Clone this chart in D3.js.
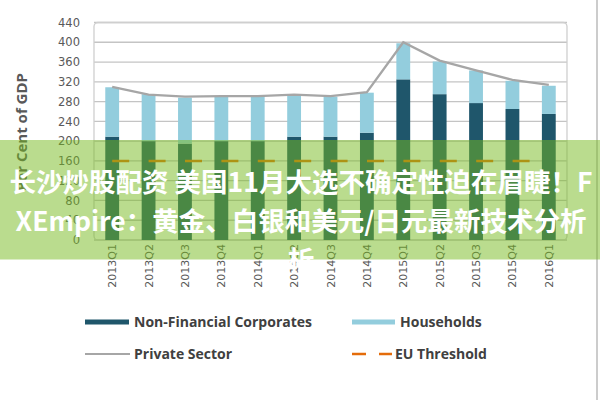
<!DOCTYPE html>
<html><head><meta charset="utf-8">
<script src="https://cdn.jsdelivr.net/npm/d3@7"></script>
<style>
html,body{margin:0;padding:0;background:#fff;}
svg{display:block;}
</style></head>
<body>
<svg id="c" width="600" height="400"></svg>
<script>
const categories = ["2013Q1","2013Q2","2013Q3","2013Q4","2014Q1","2014Q2","2014Q3","2014Q4","2015Q1","2015Q2","2015Q3","2015Q4","2016Q1"];
const nonFinancial = [209, 200, 195, 200, 200, 209, 209, 217, 325, 295, 277, 265, 255];
const households   = [100,  95,  93,  90,  90,  83,  81,  81,  73,  66,  66,  57,  57];
const privateSector= [310, 294, 290, 291, 291, 294, 291, 299, 400, 363, 343, 324, 314];
const euThreshold  = [160, 160, 160, 160, 160, 160, 160, 160, 160, 160, 160, 160, 160];
const yTicks = [0, 40, 80, 120, 160, 200, 240, 280, 320, 360, 400, 440];
const legendLabels = ["Non-Financial Corporates", "Households", "Private Sector", "EU Threshold"];
const yTitle = "Per Cent of GDP";
const bannerLines = ["长沙炒股配资 美国11月大选不确定性迫在眉睫！F", "XEmpire：黄金、白银和美元/日元最新技术分析", "析"];

const C = {dark:"#1f566b", light:"#93cddd", line:"#a6a6a6", orange:"#e46c0a", grid:"#c4c4c4", text:"#595959"};
const svg = d3.select("#c");
const L = 94, R = 567, T = 22.5, B = 240;

const x = d3.scaleBand().domain(categories).range([L, R]).paddingInner(0.62).paddingOuter(0.31);
const y = d3.scaleLinear().domain([0, 440]).range([B, T]);

// gridlines
svg.append("g").selectAll("line").data(yTicks).join("line")
  .attr("x1", L).attr("x2", R).attr("y1", d => y(d)).attr("y2", d => y(d))
  .attr("stroke", C.grid).attr("stroke-width", 1.3);

// frame
svg.append("rect").attr("x", L).attr("y", T).attr("width", R - L).attr("height", B - T)
  .attr("rx", 4).attr("fill", "none").attr("stroke", "#cfcfcf").attr("stroke-width", 1.3);

// y axis labels
const yAxis = d3.axisLeft(y).tickValues(yTicks).tickSize(0).tickPadding(0);
const ga = svg.append("g").attr("transform", `translate(80,0)`).call(yAxis);
ga.select(".domain").remove();
ga.selectAll("text").attr("font-family", "DejaVu Sans").attr("font-size", 11.5).attr("fill", C.text);

// y title
svg.append("text").attr("transform", "translate(27,73) rotate(-90)")
  .attr("text-anchor", "end").attr("font-family", "Open Sans").attr("font-weight", 700)
  .attr("font-size", 15).attr("fill", C.text).text(yTitle);

// stacked bars
const stackData = categories.map((c, i) => ({cat: c, nfc: nonFinancial[i], hh: households[i]}));
const series = d3.stack().keys(["nfc", "hh"])(stackData);
const colors = {nfc: C.dark, hh: C.light};
svg.append("g").selectAll("g").data(series).join("g").attr("fill", s => colors[s.key])
  .selectAll("rect").data(s => s).join("rect")
  .attr("x", d => x(d.data.cat)).attr("width", x.bandwidth())
  .attr("y", d => y(d[1])).attr("height", d => y(d[0]) - y(d[1]));

const cx = c => x(c) + x.bandwidth() / 2;

// EU threshold
svg.append("path").datum(euThreshold)
  .attr("d", d3.line().x((d, i) => cx(categories[i])).y(d => y(d)))
  .attr("fill", "none").attr("stroke", C.orange).attr("stroke-width", 2.5)
  .attr("stroke-dasharray", "17,19.4");

// private sector line
svg.append("path").datum(privateSector)
  .attr("d", d3.line().x((d, i) => cx(categories[i])).y(d => y(d)))
  .attr("fill", "none").attr("stroke", C.line).attr("stroke-width", 2.3);

// x labels
svg.append("g").selectAll("text").data(categories).join("text")
  .attr("transform", d => `translate(${cx(d) + 4},244) rotate(-90)`)
  .attr("text-anchor", "end").attr("font-family", "DejaVu Sans").attr("font-size", 11)
  .attr("fill", C.text).text(d => d);

// right border line
svg.append("line").attr("x1", 597).attr("x2", 597).attr("y1", 0).attr("y2", 400)
  .attr("stroke", "#cccccc").attr("stroke-width", 2);

// legend
const lg = svg.append("g").attr("font-family", "Open Sans").attr("font-weight", 700)
  .attr("font-size", 14).attr("fill", "#404040");
lg.append("rect").attr("x", 85).attr("y", 319.5).attr("width", 44).attr("height", 5).attr("fill", C.dark);
lg.append("text").attr("x", 134).attr("y", 327).text(legendLabels[0]);
lg.append("rect").attr("x", 352).attr("y", 319.5).attr("width", 43).attr("height", 5).attr("fill", C.light);
lg.append("text").attr("x", 400).attr("y", 327).text(legendLabels[1]);
lg.append("line").attr("x1", 85).attr("x2", 130).attr("y1", 354).attr("y2", 354).attr("stroke", C.line).attr("stroke-width", 2);
lg.append("text").attr("x", 134).attr("y", 359).text(legendLabels[2]);
lg.append("line").attr("x1", 352).attr("x2", 366).attr("y1", 354).attr("y2", 354).attr("stroke", C.orange).attr("stroke-width", 2.5);
lg.append("line").attr("x1", 379).attr("x2", 392).attr("y1", 354).attr("y2", 354).attr("stroke", C.orange).attr("stroke-width", 2.5);
lg.append("text").attr("x", 395).attr("y", 359).text(legendLabels[3]);

// banner overlay
svg.append("rect").attr("x", 0).attr("y", 140).attr("width", 600).attr("height", 119.5)
  .attr("fill", "rgb(118,186,29)").attr("fill-opacity", 0.5);
svg.append("g").selectAll("text").data(bannerLines).join("text")
  .attr("x", 301).attr("y", (d, i) => 191.5 + i * 39)
  .attr("text-anchor", "middle").attr("font-family", "Noto Sans CJK SC").attr("font-weight", 700)
  .attr("font-size", 26.5).attr("fill", "#fff")
  .text(d => d);
</script>
</body></html>
